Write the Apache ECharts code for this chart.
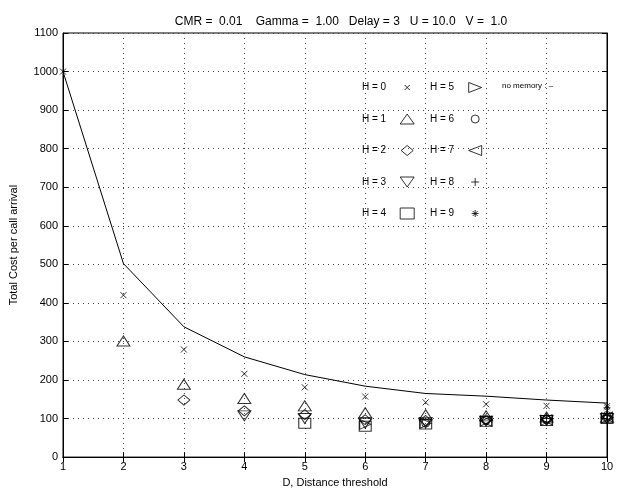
<!DOCTYPE html>
<html><head><meta charset="utf-8">
<script src="https://cdn.jsdelivr.net/npm/echarts@6/dist/echarts.min.js"></script>
<style>html,body{margin:0;padding:0;background:#fff}#c{width:618px;height:493px}</style>
</head><body><div id="c"></div>
<script>
// Distance thresholds
const D = [1,2,3,4,5,6,7,8,9,10];
// "no memory" line
const noMemory = [1000, 502, 338, 260, 214, 184, 165, 158, 148, 140];
// memory H series, values start at D = H+1
const H0 = [1000, 420, 279, 216, 181, 157, 142, 137, 133, 132];
const H1 = [301, 189, 152, 133, 115, 110, 107, 104, 103];
const H2 = [148, 120, 110, 97, 95, 97, 98, 102];
const H3 = [107, 100, 88, 90, 93, 95, 100];
const H4 = [88, 80, 86, 92, 95, 100];
const H5 = [85, 88, 94, 96, 102];
const H6 = [88, 95, 98, 108];
const H7 = [93, 97, 104];
const H8 = [100, 108];
const H9 = [128];
const hSeries = [H0,H1,H2,H3,H4,H5,H6,H7,H8,H9];
const hNames = ['H = 0','H = 1','H = 2','H = 3','H = 4','H = 5','H = 6','H = 7','H = 8','H = 9'];
const yTicks = [0,100,200,300,400,500,600,700,800,900,1000,1100];
const titleText = 'CMR =  0.01    Gamma =  1.00   Delay = 3   U = 10.0   V =  1.0';

const symbols = [
  {s:'path://M0,0L10,10M10,0L0,10', size:[6,6]},
  {s:'path://M5,0L10,9L0,9Z', size:[13,10]},
  {s:'path://M5,0L10,4.5L5,9L0,4.5Z', size:[12,10]},
  {s:'path://M0,0L10,0L5,9Z', size:[13,10]},
  {s:'path://M0,0L10,0L10,10L0,10Z', size:[12,10]},
  {s:'path://M0,0L10,5L0,10Z', size:[11,10]},
  {s:'circle', size:8},
  {s:'path://M10,0L0,5L10,10Z', size:[11,10]},
  {s:'path://M5,0L5,10M0,5L10,5', size:[8,8]},
  {s:'path://M5,0L5,10M0,5L10,5M1.5,1.5L8.5,8.5M8.5,1.5L1.5,8.5', size:[7,7]}
];
// legend icons drawn in a padded 16x12 box
const legendIcons = [
  'path://M0,0M16,12M5.5,3.5L10.5,8.5M10.5,3.5L5.5,8.5',
  'path://M0,0M16,12M1,11L8,1L15,11Z',
  'path://M0,0M16,12M2,6L8,1L14,6L8,11Z',
  'path://M0,0M16,12M1,1L15,1L8,11Z',
  'path://M0,0M16,12M1,0.5L15,0.5L15,11.5L1,11.5Z',
  'path://M0,0M16,12M1.5,1L14.5,6L1.5,11Z',
  'path://M0,0M16,12M4,6A4,4 0 1 1 12,6A4,4 0 1 1 4,6Z',
  'path://M0,0M16,12M14.5,1L1.5,6L14.5,11Z',
  'path://M0,0M16,12M8,2L8,10M4,6L12,6',
  'path://M0,0M16,12M8,2.5L8,9.5M4.5,6L11.5,6M5.5,3.5L10.5,8.5M10.5,3.5L5.5,8.5'
];

const series = [{
  name:'no memory', type:'line', data: D.map((d,i)=>[d, noMemory[i]]),
  symbol:'none', lineStyle:{color:'#000', width:1}, z:3, silent:true
}];
hSeries.forEach((arr,h)=>{
  series.push({
    name: hNames[h], type:'scatter',
    data: arr.map((v,i)=>[D[h+i], v]),
    symbol: symbols[h].s, symbolSize: symbols[h].size,
    itemStyle:{color:'none', borderColor:'#000', borderWidth:1},
    z:4
  });
});

const font = 'Liberation Sans, Arial, Helvetica, sans-serif';
const legendBase = {orient:'vertical', top:74, align:'right', itemGap:14.5,
  itemWidth:16, itemHeight:12, selectedMode:false,
  itemStyle:{color:'none', borderColor:'#000', borderWidth:1},
  textStyle:{fontSize:10, color:'#000', fontFamily:font, padding:[0,8,0,0]}};
const chart = echarts.init(document.getElementById('c'));
chart.setOption({
  animation:false,
  backgroundColor:'#fff',
  textStyle:{fontFamily:font},
  title:{text:titleText, left:336, top:11, textAlign:'center',
    textStyle:{fontSize:12, fontWeight:'normal', color:'#000', fontFamily:font}},
  grid:{left:62, right:11, top:33, bottom:32, show:true, borderColor:'#000', borderWidth:1},
  legend:[
    Object.assign({}, legendBase, {left:357,
      data:hNames.slice(0,5).map((n,i)=>({name:n, icon:legendIcons[i]}))}),
    Object.assign({}, legendBase, {left:425,
      data:hNames.slice(5,10).map((n,i)=>({name:n, icon:legendIcons[i+5]}))})
  ],
  graphic:[{type:'text', left:502, top:82, style:{text:'no memory : \u2013', fontSize:8, fill:'#000', fontFamily:font}}],
  xAxis:[{
    type:'value', min:1, max:10, interval:1,
    name:'D, Distance threshold', nameLocation:'middle', nameGap:19,
    nameTextStyle:{fontSize:11, color:'#000'},
    axisLine:{lineStyle:{color:'#000'}},
    axisTick:{inside:true, length:5, lineStyle:{color:'#000'}},
    axisLabel:{fontSize:11, color:'#000', margin:4},
    splitLine:{show:true, lineStyle:{type:[1,4], color:'#444'}}
  },{
    type:'value', position:'top', min:1, max:10, interval:1,
    axisLine:{lineStyle:{color:'#000'}}, axisTick:{inside:true, length:5, lineStyle:{color:'#000'}},
    axisLabel:{show:false}, splitLine:{show:false}
  }],
  yAxis:[{
    type:'value', min:0, max:1100, interval:100,
    name:'Total Cost per call arrival', nameLocation:'middle', nameGap:44,
    nameTextStyle:{fontSize:11, color:'#000'},
    axisLine:{lineStyle:{color:'#000'}},
    axisTick:{inside:true, length:5, lineStyle:{color:'#000'}},
    axisLabel:{fontSize:11, color:'#000', margin:5,
      formatter:v=> yTicks.includes(v)? String(v):''},
    splitLine:{show:true, lineStyle:{type:[1,4], color:'#444'}}
  },{
    type:'value', position:'right', min:0, max:1100, interval:100,
    axisLine:{lineStyle:{color:'#000'}}, axisTick:{inside:true, length:5, lineStyle:{color:'#000'}},
    axisLabel:{show:false}, splitLine:{show:false}
  }],
  series: series
});
</script></body></html>
